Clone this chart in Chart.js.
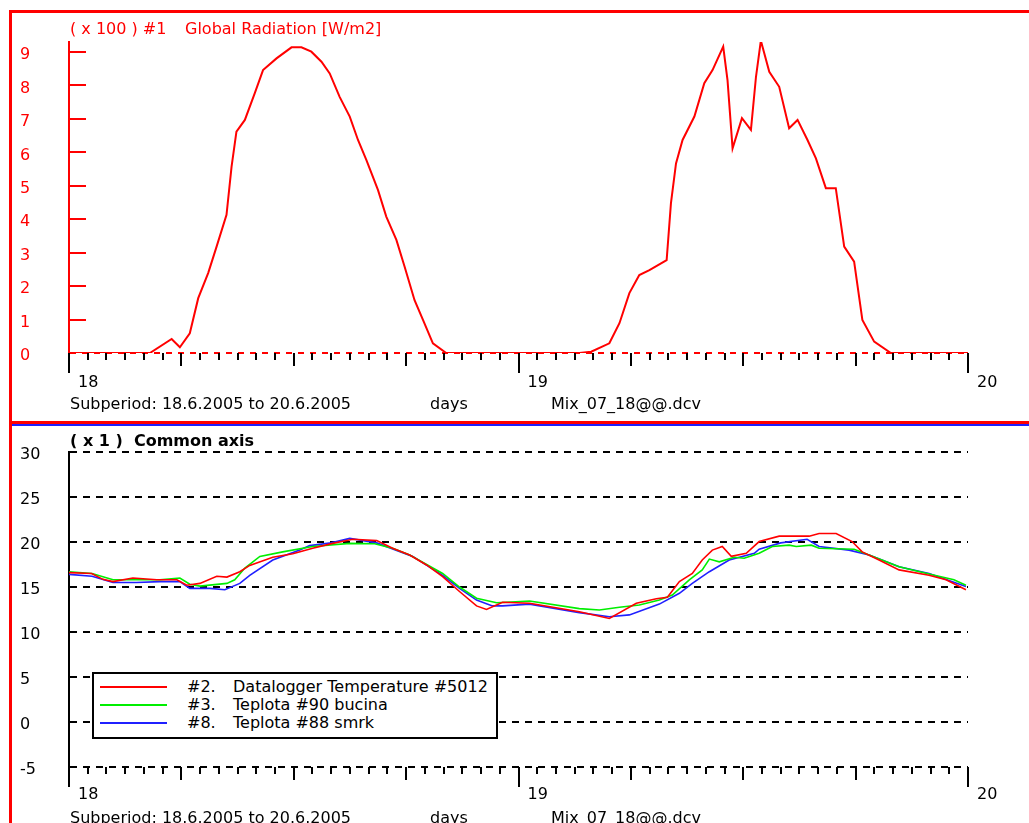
<!DOCTYPE html>
<html>
<head>
<meta charset="utf-8">
<script src="https://cdn.jsdelivr.net/npm/chart.js@4.4.0/dist/chart.umd.min.js"></script>
<style>
  body { margin: 0; background: #fff; }
  #page { position: relative; width: 1029px; height: 823px; overflow: hidden;
          font-family: "DejaVu Sans", sans-serif; font-size: 16px; }
  canvas { position: absolute; left: 0; }
  .txt { position: absolute; white-space: pre; line-height: 16px; }
  .bar { position: absolute; }
  #legend { position: absolute; left: 92px; top: 672px; width: 402px; height: 63px;
            border: 2px solid #000; background: #fff; }
  .lrow { position: absolute; left: 0; height: 18px; width: 400px; line-height: 18px; }
  .lline { position: absolute; left: 6px; top: 8px; width: 67px; height: 2px; }
  .lnum { position: absolute; left: 93px; top: 0; }
  .lname { position: absolute; left: 139px; top: 0; }
</style>
</head>
<body>
<div id="page">
  <canvas id="radChart" width="1029" height="422" style="top:0"></canvas>
  <canvas id="tempChart" width="1029" height="397" style="top:426px"></canvas>

  <div class="bar" style="left:9px;top:10px;width:1020px;height:3px;background:#ff0000"></div>
  <div class="bar" style="left:9px;top:10px;width:3px;height:813px;background:#ff0000"></div>
  <div class="bar" style="left:9px;top:421px;width:1020px;height:3px;background:#ff0000"></div>
  <div class="bar" style="left:12px;top:424px;width:1017px;height:2px;background:#2020ff"></div>

  <div class="txt" style="left:70px;top:21px;color:#ff0000">( x 100 ) #1</div>
  <div class="txt" style="left:185px;top:21px;color:#ff0000">Global Radiation [W/m2]</div>
  <div class="txt" style="left:70px;top:396px">Subperiod: 18.6.2005 to 20.6.2005</div>
  <div class="txt" style="left:430px;top:396px">days</div>
  <div class="txt" style="left:551px;top:396px">Mix_07_18@@.dcv</div>

  <div class="txt" style="left:70px;top:433px;font-weight:bold">( x 1 )  Common axis</div>
  <div class="txt" style="left:70px;top:810px">Subperiod: 18.6.2005 to 20.6.2005</div>
  <div class="txt" style="left:430px;top:810px">days</div>
  <div class="txt" style="left:551px;top:810px">Mix_07_18@@.dcv</div>

  <div id="legend"></div>
</div>

<script>
// hours since 18.6.2005 00:00
var dayTicks = [0, 24, 48];
var dayLabels = ['18', '19', '20'];
var radTicks = [0, 1, 2, 3, 4, 5, 6, 7, 8, 9];
var tempTicks = [-5, 0, 5, 10, 15, 20, 25, 30];

// global radiation (x 100 W/m2)
var radHours = [0, 4.32, 5.48, 5.92, 6.45, 6.9, 7.43, 7.88, 8.41, 8.68, 8.94, 9.39, 9.92, 10.36, 11.08, 11.88,
  12.41, 12.94, 13.48, 13.92, 14.45, 14.99, 15.43, 15.88, 16.5, 16.94, 17.48, 17.92, 18.45, 18.9, 19.43, 20.14,
  27.25, 27.88, 28.85, 29.39, 29.92, 30.45, 30.99, 31.91, 32.14, 32.41, 32.76, 33.39, 33.92, 34.36, 34.93, 35.16,
  35.43, 35.93, 36.41, 36.68, 36.94, 37.39, 37.92, 38.45, 38.9, 39.43, 39.88, 40.41, 40.94, 41.39, 41.92, 42.36,
  42.99, 43.88, 48];
var radValues = [0, 0, 0.42, 0.17, 0.59, 1.64, 2.39, 3.18, 4.13, 5.57, 6.62, 6.97, 7.77, 8.46, 8.81, 9.14,
  9.14, 9.01, 8.71, 8.36, 7.66, 7.07, 6.37, 5.77, 4.87, 4.08, 3.38, 2.58, 1.58, 0.99, 0.29, 0,
  0, 0.04, 0.29, 0.89, 1.79, 2.33, 2.48, 2.78, 4.48, 5.67, 6.37, 7.07, 8.07, 8.46, 9.16, 8.16,
  6.12, 7.02, 6.67, 8.26, 9.34, 8.41, 7.96, 6.72, 6.97, 6.37, 5.82, 4.93, 4.93, 3.18, 2.73, 0.99,
  0.34, 0, 0];

// temperatures
var loggerHours = [0, 1.21, 1.81, 2.35, 3.41, 4.69, 5.76, 6.29, 6.99, 7.89, 8.43, 9.12, 9.65, 10.88, 11.95, 13.01,
  14.08, 15.15, 16.43, 17.28, 18.19, 19.09, 19.95, 20.85, 21.76, 22.29, 23.15, 24.59, 27.25, 28.85, 30.29, 31.36,
  31.95, 32.59, 33.28, 33.81, 34.35, 34.88, 35.36, 36.16, 36.85, 37.92, 39.52, 40.05, 40.96, 41.81, 42.35, 43.25,
  44.32, 45.92, 46.83, 47.89];
var loggerTemp = [16.6, 16.5, 15.85, 15.6, 16.0, 15.8, 15.8, 15.2, 15.4, 16.2, 16.1, 16.7, 17.4, 18.3, 18.7, 19.3,
  19.85, 20.3, 20.15, 19.3, 18.55, 17.45, 16.15, 14.5, 12.9, 12.5, 13.3, 13.2, 12.26, 11.5, 13.2, 13.7,
  13.85, 15.6, 16.5, 18.0, 19.1, 19.5, 18.4, 18.75, 20.05, 20.65, 20.65, 20.95, 20.95, 20.05, 18.9, 18.0,
  16.9, 16.3, 15.8, 14.7];

var bucinaHours = [0, 1.23, 2.35, 4.85, 5.92, 6.45, 6.99, 8.43, 8.85, 9.39, 10.19, 11.41, 13.01, 14.99, 16.32, 17.28,
  18.19, 19.95, 20.85, 21.76, 22.83, 24.59, 27.25, 28.32, 29.39, 30.45, 31.52, 32.21, 33.12, 33.81, 34.19, 34.72,
  35.52, 36.05, 36.85, 37.55, 38.45, 38.83, 39.63, 40.05, 41.92, 42.72, 44.32, 45.92, 47.25, 47.89];
var bucinaTemp = [16.7, 16.5, 15.8, 15.8, 16.0, 15.3, 15.1, 15.4, 15.8, 17.1, 18.4, 18.9, 19.5, 19.85, 19.8, 19.3,
  18.55, 16.5, 15.0, 13.75, 13.25, 13.45, 12.6, 12.45, 12.75, 13.0, 13.55, 14.1, 15.8, 16.9, 18.1, 17.8,
  18.3, 18.2, 18.75, 19.5, 19.65, 19.5, 19.65, 19.3, 19.2, 18.55, 17.25, 16.45, 15.8, 15.2];

var smrkHours = [0, 1.23, 2.35, 3.6, 4.85, 5.92, 6.45, 7.52, 8.32, 9.12, 9.65, 10.88, 12.32, 12.85, 14.0, 14.99,
  16.43, 18.35, 19.95, 20.85, 21.76, 22.61, 23.15, 24.59, 27.25, 28.85, 29.92, 31.52, 32.59, 33.28, 34.19, 35.25,
  36.59, 36.85, 38.0, 39.41, 40.05, 41.65, 42.72, 44.32, 45.92, 47.89];
var smrkTemp = [16.4, 16.2, 15.5, 15.5, 15.6, 15.6, 14.85, 14.85, 14.7, 15.4, 16.3, 18.0, 19.1, 19.6, 19.9, 20.4,
  19.9, 18.4, 16.3, 14.85, 13.55, 12.9, 12.9, 13.1, 12.15, 11.7, 11.9, 13.1, 14.3, 15.4, 16.7, 18.0,
  18.75, 19.2, 19.9, 20.3, 19.5, 19.1, 18.55, 17.25, 16.5, 15.05];

var seriesNums = ['#2.', '#3.', '#8.'];
var seriesNames = ['Datalogger Temperature #5012', 'Teplota #90 bucina', 'Teplota #88 smrk'];
var seriesColors = ['#ff0000', '#00ee00', '#2020ff'];

function pts(xs, ys) {
  return xs.map(function(x, i) { return {x: x, y: ys[i]}; });
}

Chart.defaults.font.family = '"DejaVu Sans", sans-serif';
Chart.defaults.font.size = 16;
Chart.defaults.color = '#000';

// hourly ticks below the time axis, longer every 6 h and at each day
function tickMarks(yColor, drawYTicks) {
  return {
    id: 'tickMarks',
    afterDraw: function(chart) {
      var ctx = chart.ctx, xs = chart.scales.x, ys = chart.scales.y;
      var base = chart.chartArea.bottom;
      ctx.save();
      ctx.lineWidth = 2;
      ctx.strokeStyle = '#000';
      for (var h = 0; h <= 48; h++) {
        var len = h % 24 === 0 ? 20 : (h % 6 === 0 ? 13 : 7);
        var px = Math.round(xs.getPixelForValue(h));
        ctx.beginPath();
        ctx.moveTo(px, base);
        ctx.lineTo(px, base + len);
        ctx.stroke();
      }
      if (drawYTicks) {
        ctx.strokeStyle = yColor;
        var left = chart.chartArea.left;
        radTicks.forEach(function(v) {
          if (v === 0) return;
          var py = Math.round(ys.getPixelForValue(v));
          ctx.beginPath();
          ctx.moveTo(left, py);
          ctx.lineTo(left + 17, py);
          ctx.stroke();
        });
      }
      ctx.restore();
    }
  };
}

function xScale(height, pad) {
  return {
    type: 'linear', min: 0, max: 48,
    afterBuildTicks: function(s) { s.ticks = dayTicks.map(function(v) { return {value: v}; }); },
    afterFit: function(s) { s.height = height; },
    grid: {display: false, drawTicks: false},
    border: {display: false},
    ticks: {
      align: 'start', labelOffset: 9, padding: pad, maxRotation: 0, autoSkip: false,
      color: '#000',
      callback: function(v) { return dayLabels[dayTicks.indexOf(v)]; }
    }
  };
}

new Chart(document.getElementById('radChart'), {
  type: 'line',
  data: {
    datasets: [{
      label: 'Global Radiation [W/m2]',
      data: pts(radHours, radValues),
      borderColor: '#ff0000',
      borderWidth: 2,
      pointRadius: 0,
      tension: 0
    }]
  },
  options: {
    responsive: false,
    animation: false,
    layout: {padding: {left: 20, right: 61, top: 42, bottom: 0}},
    plugins: {legend: {display: false}, tooltip: {enabled: false}},
    scales: {
      x: xScale(69, 20),
      y: {
        min: 0, max: 9.3,
        afterBuildTicks: function(s) { s.ticks = radTicks.map(function(v) { return {value: v}; }); },
        afterFit: function(s) { s.width = 49; },
        grid: {
          drawTicks: false,
          lineWidth: 2,
          color: function(c) { return c.tick && c.tick.value === 0 ? '#ff0000' : 'rgba(0,0,0,0)'; }
        },
        border: {display: true, color: '#ff0000', width: 2, dash: [6, 6]},
        ticks: {color: '#ff0000', crossAlign: 'far', padding: 0, labelOffset: 3}
      }
    }
  },
  plugins: [tickMarks('#ff0000', true)]
});

var tempSets = [pts(loggerHours, loggerTemp), pts(bucinaHours, bucinaTemp), pts(smrkHours, smrkTemp)];

new Chart(document.getElementById('tempChart'), {
  type: 'line',
  data: {
    datasets: tempSets.map(function(d, i) {
      return {
        label: seriesNames[i],
        data: d,
        borderColor: seriesColors[i],
        borderWidth: 1.6,
        pointRadius: 0,
        tension: 0
      };
    })
  },
  options: {
    responsive: false,
    animation: false,
    layout: {padding: {left: 20, right: 61, top: 26, bottom: 0}},
    plugins: {legend: {display: false}, tooltip: {enabled: false}},
    scales: {
      x: xScale(56, 18),
      y: {
        min: -5, max: 30,
        afterBuildTicks: function(s) { s.ticks = tempTicks.map(function(v) { return {value: v}; }); },
        afterFit: function(s) { s.width = 49; },
        grid: {drawTicks: false, lineWidth: 2, color: '#000'},
        border: {display: true, color: '#000', width: 2, dash: [7, 6]},
        ticks: {color: '#000', crossAlign: 'far', padding: 0, labelOffset: 3}
      }
    }
  },
  plugins: [tickMarks('#000', false)]
});

// legend box built from the series lists
var legend = document.getElementById('legend');
seriesNames.forEach(function(name, i) {
  var row = document.createElement('div');
  row.className = 'lrow';
  row.style.top = (4 + i * 18) + 'px';
  row.innerHTML = '<div class="lline" style="background:' + seriesColors[i] + '"></div>' +
    '<span class="lnum">' + seriesNums[i] + '</span><span class="lname">' + name + '</span>';
  legend.appendChild(row);
});
</script>
</body>
</html>
